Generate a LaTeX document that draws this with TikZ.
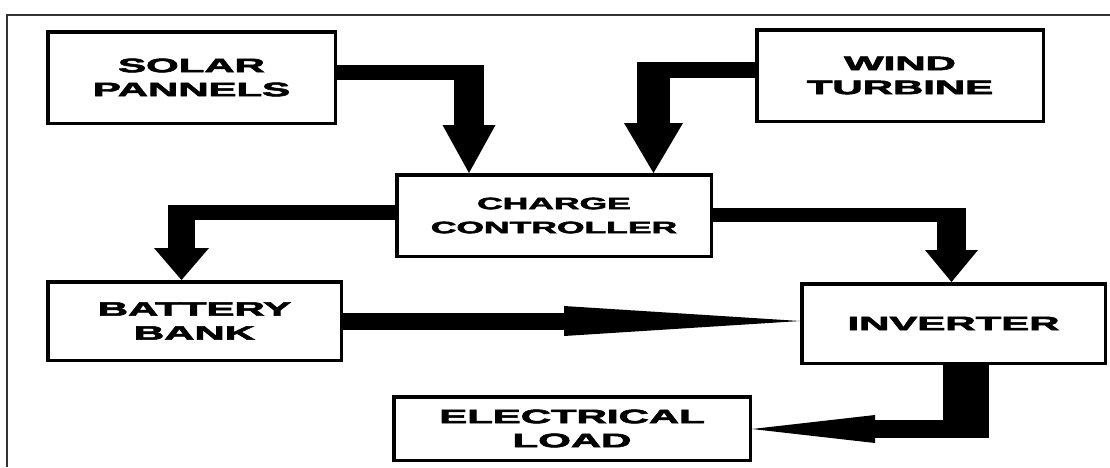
\documentclass[tikz,border=0pt]{standalone}
\usepackage{graphicx}
\usepackage{fontspec}
\setmainfont{Liberation Sans}[BoldFeatures={FakeBold=2.5}]
\usetikzlibrary{arrows.meta}
\newcommand{\widetxt}[1]{\scalebox{2.15}[1]{#1}}
\tikzset{
  blockbox/.style={draw, line width=3.5pt, inner sep=0pt, align=center,
    font=\bfseries\fontsize{19.5}{24}\selectfont},
  flow/.style={line width=#1},
  head/.style 2 args={-{Triangle[length=#1,width=#2,line width'=0pt]}}
}
\begin{document}
\begin{tikzpicture}[x=1pt,y=-1pt]
\useasboundingbox (0,0) rectangle (1110,467);
\draw[line width=1.5pt,black!80] (7,467) -- (7,15) -- (1110,15);

\node(Solar)    [blockbox, minimum width=287.5pt, minimum height=91.5pt] at (191.5,77.5)  {\widetxt{SOLAR}\\\widetxt{PANNELS}};
\node(Wind)     [blockbox, minimum width=286.5pt, minimum height=91.5pt] at (900,75.5)    {\widetxt{WIND}\\\widetxt{TURBINE}};
\node(Charge)   [blockbox, minimum width=314.5pt, minimum height=81.5pt,
                 font=\bfseries\fontsize{16.5}{24}\selectfont]            at (554,215.5)  {\widetxt{CHARGE}\\\widetxt{CONTROLLER}};
\node(Battery)  [blockbox, minimum width=293.5pt, minimum height=78.5pt] at (194.5,321)   {\widetxt{BATTERY}\\\widetxt{BANK}};
\node(Inverter) [blockbox, minimum width=303.5pt, minimum height=79.5pt] at (953.5,323.5) {\widetxt{INVERTER}};
\node(Load)     [blockbox, minimum width=356.5pt, minimum height=63.5pt] at (572,428.5)   {\widetxt{ELECTRICAL}\\\widetxt{LOAD}};

\coordinate(SolarBend) at (484,72.5);
\coordinate(SolarDrop) at (469,65);
\draw[flow=15pt] (Solar.east |- SolarBend) -- (SolarBend);
\draw[flow=30pt, head={48pt}{53pt}] (SolarDrop) -- (SolarDrop |- Charge.north);

\coordinate(WindBend) at (637,70);
\coordinate(WindDrop) at (653.5,62);
\draw[flow=16pt] (Wind.west |- WindBend) -- (WindBend);
\draw[flow=33pt, head={50pt}{59pt}] (WindDrop) -- (WindDrop |- Charge.north);

\coordinate(LeftBend) at (168,212.5);
\coordinate(LeftDrop) at (181.5,205);
\draw[flow=15pt] (Charge.west |- LeftBend) -- (LeftBend);
\draw[flow=27pt, head={32pt}{55pt}] (LeftDrop) -- (LeftDrop |- Battery.north);

\coordinate(RightBend) at (966,215);
\coordinate(RightDrop) at (951.5,208);
\draw[flow=14pt] (Charge.east |- RightBend) -- (RightBend);
\draw[flow=29pt, head={32pt}{53pt}] (RightDrop) -- (RightDrop |- Inverter.north);

\draw[flow=17pt, head={236pt}{30pt}] (Battery.east) -- (Battery.east -| Inverter.west);

\coordinate(LoadBend) at (966,438);
\coordinate(LoadTurn) at (989,429);
\draw[flow=46pt] (LoadBend |- Inverter.south) -- (LoadBend);
\draw[flow=18pt, head={123pt}{28pt}] (LoadTurn) -- (LoadTurn -| Load.east);
\end{tikzpicture}
\end{document}
